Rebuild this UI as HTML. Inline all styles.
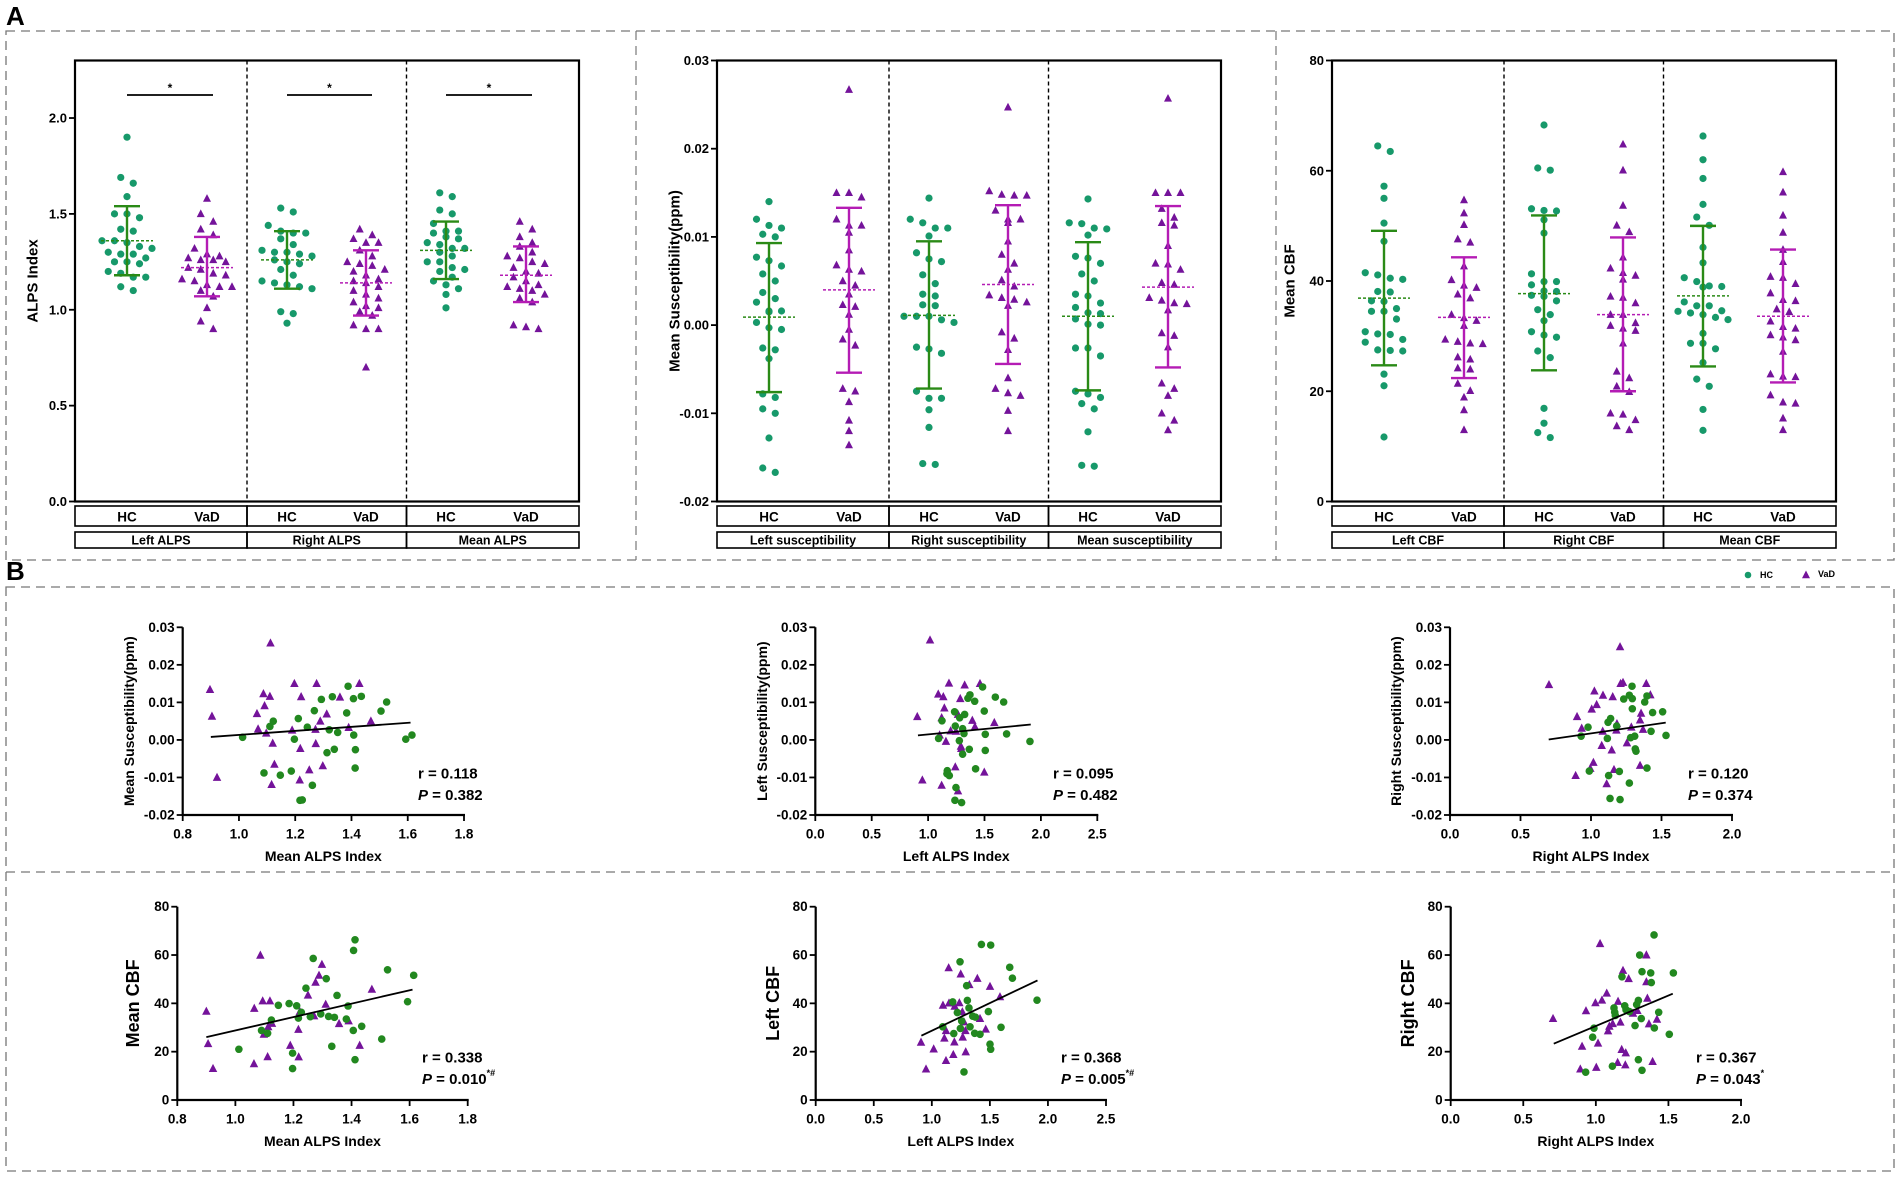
<!DOCTYPE html>
<html><head><meta charset="utf-8">
<style>
html,body{margin:0;padding:0;background:#fff;}
svg{display:block;font-family:"Liberation Sans",Arial,sans-serif;font-weight:bold;}
</style></head>
<body>
<svg id="fig" width="1902" height="1178" viewBox="0 0 1902 1178" xmlns="http://www.w3.org/2000/svg"></svg>
<script>
// ---------- Panel A data ----------
const alpsLeftHC=[1.90,1.69,1.66,1.59,1.50,1.50,1.48,1.42,1.41,1.36,1.36,1.35,1.33,1.32,1.30,1.29,1.29,1.27,1.25,1.25,1.24,1.20,1.19,1.17,1.17,1.12,1.10];
const alpsLeftVaD=[1.58,1.50,1.46,1.42,1.39,1.32,1.29,1.28,1.27,1.26,1.26,1.25,1.22,1.21,1.19,1.18,1.16,1.15,1.13,1.12,1.12,1.10,1.07,1.01,0.94,0.90];
const alpsRightHC=[1.53,1.51,1.44,1.41,1.40,1.40,1.37,1.34,1.31,1.30,1.30,1.29,1.28,1.26,1.25,1.24,1.21,1.18,1.15,1.14,1.13,1.12,1.11,0.99,0.98,0.93];
const alpsRightVaD=[1.42,1.39,1.37,1.35,1.35,1.31,1.28,1.25,1.24,1.23,1.21,1.20,1.18,1.16,1.15,1.14,1.12,1.10,1.08,1.06,1.04,1.02,1.01,0.99,0.97,0.92,0.90,0.90,0.70];
const alpsMeanHC=[1.61,1.59,1.52,1.50,1.45,1.41,1.41,1.40,1.38,1.37,1.35,1.34,1.32,1.32,1.30,1.28,1.25,1.25,1.22,1.21,1.20,1.17,1.15,1.13,1.11,1.08,1.01];
const alpsMeanVaD=[1.46,1.42,1.38,1.35,1.33,1.30,1.28,1.27,1.25,1.24,1.22,1.20,1.19,1.17,1.15,1.13,1.12,1.11,1.10,1.08,1.06,1.04,0.92,0.90,0.91];
const alpsMeans=[1.36,1.22,1.26,1.14,1.31,1.18];
const alpsLow=[1.18,1.07,1.11,0.97,1.16,1.04];
const alpsHigh=[1.54,1.38,1.41,1.31,1.46,1.33];
const alpsTicks=[0.0,0.5,1.0,1.5,2.0];
const alpsTickLabels=["0.0","0.5","1.0","1.5","2.0"];

const suscLeftHC=[0.0140,0.0120,0.0110,0.0113,0.0103,0.0100,0.0077,0.0073,0.0067,0.0058,0.0050,0.0037,0.0030,0.0026,0.0016,0.0016,0.0015,0.0003,-0.0003,-0.0005,-0.0026,-0.0028,-0.0038,-0.0078,-0.0082,-0.0095,-0.0100,-0.0128,-0.0162,-0.0167];
const suscLeftVaD=[0.0267,0.0150,0.0145,0.0150,0.0120,0.0113,0.0113,0.0105,0.0085,0.0068,0.0063,0.0061,0.0050,0.0045,0.0035,0.0023,0.0021,0.0012,-0.0005,-0.0016,-0.0023,-0.0072,-0.0075,-0.0087,-0.0108,-0.0120,-0.0136];
const suscRightHC=[0.0144,0.0120,0.0110,0.0116,0.0110,0.0101,0.0082,0.0075,0.0072,0.0057,0.0047,0.0035,0.0033,0.0022,0.0023,0.0010,0.0010,0.0010,0.0006,0.0003,-0.0025,-0.0027,-0.0032,-0.0075,-0.0083,-0.0083,-0.0096,-0.0116,-0.0158,-0.0157];
const suscRightVaD=[0.0247,0.0152,0.0147,0.0148,0.0147,0.0130,0.0120,0.0120,0.0116,0.0095,0.0080,0.0070,0.0063,0.0051,0.0044,0.0034,0.0031,0.0029,0.0026,0.0022,-0.0008,-0.0015,-0.0028,-0.0060,-0.0072,-0.0077,-0.0080,-0.0097,-0.0120];
const suscMeanHC=[0.0143,0.0116,0.0115,0.0110,0.0109,0.0102,0.0078,0.0076,0.0070,0.0058,0.0050,0.0035,0.0033,0.0025,0.0020,0.0014,0.0013,0.0007,0.0001,0.0000,-0.0026,-0.0026,-0.0035,-0.0075,-0.0078,-0.0082,-0.0089,-0.0095,-0.0121,-0.0160,-0.0159];
const suscMeanVaD=[0.0257,0.0150,0.0150,0.0150,0.0122,0.0116,0.0113,0.0132,0.0090,0.0070,0.0069,0.0063,0.0048,0.0046,0.0031,0.0028,0.0024,0.0025,0.0017,-0.0009,-0.0012,-0.0025,-0.0066,-0.0072,-0.0080,-0.0100,-0.0108,-0.0119];
const suscMeans=[0.0009,0.0040,0.0011,0.0046,0.0010,0.0043];
const suscLow=[-0.0076,-0.0054,-0.0072,-0.0044,-0.0074,-0.0048];
const suscHigh=[0.0093,0.0133,0.0095,0.0136,0.0094,0.0135];
const suscTicks=[-0.02,-0.01,0.0,0.01,0.02,0.03];
const suscTickLabels=["-0.02","-0.01","0.00","0.01","0.02","0.03"];

const cbfLeftHC=[64.5,63.5,57.2,55,50.5,47.2,41.5,41.1,40.5,40.3,38.1,38,36.4,36.3,35,34.5,34.5,33.1,30.8,30.4,30.3,29.4,28.9,27.5,27.4,27.3,23.1,21,11.7];
const cbfLeftVaD=[54.7,52.3,50.2,47.6,47,42.7,40.2,39.2,38.8,37.6,36.9,33.9,33.3,32.8,31.9,29.4,29,28.7,28.6,26.2,25.8,24.2,24,21.4,20.1,18.9,16.6,13];
const cbfRightHC=[68.3,60.5,60.1,53.1,52.8,52.7,51.1,48.7,41.3,39.9,39.9,39.3,38.2,38.1,37.4,37.2,36.4,34.8,33.9,32.8,30.8,30.2,29.8,27.3,26.1,16.9,14.2,12.5,11.6];
const cbfRightVaD=[64.8,60.1,53.7,50.1,48.9,44.3,42.3,41.5,41,40.3,37.2,37,36,33.9,33.9,32.4,31.9,31.4,31,28.7,23.6,22.4,20.9,19.9,16,15.8,14.8,13.7,13];
const cbfMeanHC=[66.3,62,58.6,53.9,51.6,50.1,46.1,43.3,40.6,39.9,39.1,39,38.9,36.2,35.5,35.5,34.6,34.5,34.2,33.9,33.4,33,30.5,28.7,28.7,27.7,25.2,22.2,20.9,16.7,12.9];
const cbfMeanVaD=[59.8,56.1,51.9,48.8,45.7,43.5,40.8,40.6,39.5,37.8,36.6,36.4,34.9,34.4,32.7,31.7,31.4,30.2,29.8,29.3,27.2,23.1,22.7,22.6,19.3,18,17.8,15.1,13];
const cbfMeans=[36.9,33.4,37.7,33.9,37.3,33.6];
const cbfLow=[24.7,22.4,23.8,20,24.5,21.6];
const cbfHigh=[49.1,44.3,51.9,47.9,50,45.7];
const cbfTicks=[0,20,40,60,80];
const cbfTickLabels=["0","20","40","60","80"];

const groupLabels=["HC","VaD","HC","VaD","HC","VaD"];

// ---------- Panel B data ----------
const s1HC=[[1.013,0.0007],[1.110,0.0036],[1.122,0.005],[1.211,0.0057],[1.197,0.0002],[1.243,0.0034],[1.268,0.0078],[1.293,0.0108],[1.332,0.0115],[1.321,0.0027],[1.351,0.0020],[1.313,-0.0034],[1.339,-0.0025],[1.388,0.0143],[1.407,0.011],[1.435,0.0116],[1.383,0.0072],[1.408,0.0013],[1.414,-0.0026],[1.413,-0.0075],[1.505,0.0077],[1.525,0.0101],[1.593,0.0002],[1.615,0.0013],[1.089,-0.0088],[1.147,-0.0094],[1.186,-0.0083],[1.261,-0.0121],[1.217,-0.0161],[1.225,-0.016]];
const s1VaD=[[0.897,0.0134],[0.904,0.0063],[0.922,-0.0100],[1.112,0.0258],[1.087,0.0123],[1.110,0.0116],[1.091,0.0091],[1.064,0.007],[1.068,0.0029],[1.097,0.0018],[1.120,-0.0009],[1.126,-0.0065],[1.116,-0.0119],[1.197,0.015],[1.221,0.0115],[1.189,0.0026],[1.218,-0.0023],[1.216,-0.0107],[1.276,0.015],[1.272,0.0028],[1.273,-0.001],[1.289,0.005],[1.312,0.0069],[1.250,-0.008],[1.298,-0.0069],[1.359,0.0114],[1.390,0.0033],[1.428,0.015],[1.469,0.005]];
const s1Fit=[[0.9,0.0008],[1.61,0.0046]];
const s2HC=[[1.093,0.0004],[1.123,0.0051],[1.235,0.0075],[1.241,0.0037],[1.280,0.0059],[1.324,0.0068],[1.306,0.003],[1.318,0.0017],[1.277,-0.0002],[1.306,-0.0038],[1.365,-0.0025],[1.371,0.012],[1.353,0.0111],[1.413,0.0103],[1.483,0.0141],[1.498,0.0077],[1.507,0.0015],[1.507,-0.0028],[1.421,-0.0077],[1.596,0.0114],[1.670,0.0101],[1.696,0.0016],[1.903,-0.0004],[1.170,-0.0082],[1.167,-0.009],[1.188,-0.0095],[1.247,-0.0127],[1.238,-0.0161],[1.297,-0.0167]];
const s2VaD=[[1.017,0.0266],[0.904,0.0062],[0.949,-0.0107],[1.090,0.0122],[1.135,0.0115],[1.144,0.0085],[1.120,0.0059],[1.102,0.0013],[1.158,-0.0004],[1.120,-0.0121],[1.185,0.0151],[1.200,0.0024],[1.247,0.0023],[1.265,0.0068],[1.285,0.011],[1.291,-0.0017],[1.294,-0.0023],[1.241,-0.0072],[1.265,-0.0136],[1.324,0.0146],[1.392,0.0052],[1.415,0.0035],[1.460,0.015],[1.498,-0.0086],[1.587,0.0046]];
const s2Fit=[[0.91,0.0012],[1.91,0.0041]];
const s3HC=[[0.93,0.001],[0.979,0.0034],[0.988,-0.0083],[1.116,0.0004],[1.121,0.0047],[1.139,0.0057],[1.182,0.0037],[1.125,-0.0095],[1.201,-0.0084],[1.135,-0.0156],[1.206,-0.0159],[1.232,0.0109],[1.272,0.0119],[1.291,0.0143],[1.293,0.011],[1.293,0.0083],[1.281,0.0006],[1.310,0.001],[1.314,-0.0024],[1.319,-0.003],[1.272,-0.0115],[1.381,0.0101],[1.397,0.0117],[1.437,0.0073],[1.426,0.0023],[1.397,-0.0075],[1.508,0.0075],[1.532,0.0012]];
const s3VaD=[[0.702,0.0147],[0.901,0.0062],[0.934,0.0031],[0.891,-0.0095],[1.005,0.0082],[1.024,0.013],[1.040,0.0094],[1.017,-0.006],[0.995,-0.0076],[1.085,0.0119],[1.083,0.0023],[1.076,-0.0015],[1.111,-0.0117],[1.154,0.0115],[1.147,-0.0027],[1.163,-0.0079],[1.184,0.0043],[1.180,0.0026],[1.206,0.0248],[1.210,0.015],[1.227,0.0153],[1.255,-0.0008],[1.286,0.0034],[1.348,0.0053],[1.355,0.0071],[1.348,-0.0068],[1.369,0.0028],[1.392,0.015],[1.421,0.012]];
const s3Fit=[[0.70,0.0001],[1.53,0.0046]];
const s4HC=[[1.012,21],[1.090,28.8],[1.111,27.6],[1.124,33.1],[1.148,39.2],[1.185,39.9],[1.211,39.0],[1.217,33.9],[1.227,36.3],[1.197,19.4],[1.197,13],[1.243,46.3],[1.268,58.6],[1.258,34.5],[1.294,35.6],[1.313,50.2],[1.321,34.6],[1.341,34.2],[1.350,43.3],[1.332,22.2],[1.382,33.5],[1.388,38.9],[1.407,61.9],[1.412,66.3],[1.406,28.8],[1.412,16.7],[1.435,30.5],[1.504,25.2],[1.524,53.9],[1.593,40.7],[1.614,51.6]];
const s4VaD=[[0.900,36.7],[0.906,23.3],[0.923,13],[1.065,37.9],[1.064,15],[1.086,59.9],[1.094,41],[1.119,41],[1.098,27.2],[1.113,30.3],[1.126,31.7],[1.111,17.9],[1.189,22.6],[1.218,17.8],[1.217,29.2],[1.222,36.6],[1.250,43.4],[1.276,48.7],[1.271,34.8],[1.288,51.6],[1.298,56.1],[1.311,39.6],[1.357,31.6],[1.390,32.7],[1.428,22.6],[1.470,45.8]];
const s4Fit=[[0.9,26],[1.61,45.7]];
const s5HC=[[1.094,30.3],[1.189,27.5],[1.180,40.6],[1.220,36.2],[1.243,57.2],[1.246,29.6],[1.300,47.3],[1.306,41.2],[1.320,38.1],[1.329,30.3],[1.352,34.7],[1.375,34.3],[1.369,27.6],[1.415,27.2],[1.427,64.4],[1.487,36.6],[1.507,64.1],[1.501,23.1],[1.507,21],[1.596,30.1],[1.671,54.9],[1.694,50.4],[1.906,41.3],[1.277,11.6],[1.257,32.7]];
const s5VaD=[[0.907,23.9],[0.950,12.8],[1.016,21.1],[1.096,39.2],[1.108,25.6],[1.145,54.7],[1.148,40.1],[1.122,28.7],[1.122,16.3],[1.185,18.8],[1.194,24],[1.197,38.8],[1.237,40.2],[1.249,52.1],[1.263,36.5],[1.266,26],[1.277,32.3],[1.289,28.7],[1.292,19.9],[1.323,47.7],[1.392,50.3],[1.415,33.7],[1.464,29.3],[1.501,47],[1.587,42.7]];
const s5Fit=[[0.91,26.6],[1.91,49.5]];
const s6HC=[[0.93,11.5],[0.987,29.7],[0.978,26],[1.114,14],[1.125,38.1],[1.130,36.3],[1.134,35],[1.180,51],[1.199,39],[1.208,37.3],[1.231,36.6],[1.270,30.8],[1.281,39.5],[1.293,41.2],[1.293,16.7],[1.302,60],[1.313,33.7],[1.318,12.3],[1.318,53.1],[1.378,52.6],[1.382,48.6],[1.403,29.8],[1.401,68.3],[1.433,36.3],[1.506,27.2],[1.534,52.6]];
const s6VaD=[[0.705,33.7],[0.893,12.8],[0.905,22.2],[0.932,36.9],[1.003,13.5],[1.015,23.5],[0.997,40.2],[1.029,64.7],[1.042,41.3],[1.075,44.2],[1.084,28.6],[1.093,30.5],[1.116,31.6],[1.153,40.8],[1.150,15.5],[1.169,32.2],[1.178,20.9],[1.187,53.6],[1.206,19.5],[1.203,14.5],[1.226,50.2],[1.256,35.9],[1.286,37],[1.348,48.9],[1.348,60],[1.355,42.1],[1.366,31.5],[1.391,15.9],[1.421,33.4]];
const s6Fit=[[0.71,23.3],[1.53,44]];
const ticksMeanAlps=[0.8,1.0,1.2,1.4,1.6,1.8];
const ticksLeftAlps=[0.0,0.5,1.0,1.5,2.0,2.5];
const ticksRightAlps=[0.0,0.5,1.0,1.5,2.0];
const statR=["0.118","0.095","0.120","0.338","0.368","0.367"];
const statP=["0.382","0.482","0.374","0.010","0.005","0.043"];
const statSup=["","","","*#","*#","*"];

// ---------- drawing ----------
const NS="http://www.w3.org/2000/svg";
const svg=document.getElementById('fig');
function mk(tag,attrs,name,parent){
  const el=document.createElementNS(NS,tag);
  for(const k in attrs) el.setAttribute(k,attrs[k]);
  
  
  (parent||svg).appendChild(el);
  return el;
}
function txt(x,y,s,size,name,anchor,extra){
  const t=mk('text',Object.assign({x:x,y:y,'font-size':size,'text-anchor':anchor||'middle','dominant-baseline':'central',fill:'#000'},extra||{}),name);
  t.textContent=s;return t;
}
const GREEN_A='#17996a', GREEN_B='#22881f', PURPLE='#74139a', MAG='#b41cb4', GBAR='#2a8a16';

function circle(x,y,r,fill,name){return mk('circle',{cx:x,cy:y,r:r,fill:fill},name);}
function tri(x,y,s,fill,name){
  const h=s*0.9;
  return mk('polygon',{points:`${x},${y-h*0.62} ${x-s/2},${y+h*0.45} ${x+s/2},${y+h*0.45}`,fill:fill},name);
}
mk('rect',{x:6,y:31,width:1888,height:529,fill:'none',stroke:'#777','stroke-width':1.3,'stroke-dasharray':'9,6'},'panel-a-border');
mk('line',{x1:636,y1:31,x2:636,y2:560,stroke:'#777','stroke-width':1.2,'stroke-dasharray':'9,6'},'panel-a-divider-1');
mk('line',{x1:1276,y1:31,x2:1276,y2:560,stroke:'#777','stroke-width':1.2,'stroke-dasharray':'9,6'},'panel-a-divider-2');
mk('rect',{x:6,y:587,width:1888,height:584,fill:'none',stroke:'#777','stroke-width':1.3,'stroke-dasharray':'9,6'},'panel-b-border');
mk('line',{x1:6,y1:872,x2:1894,y2:872,stroke:'#777','stroke-width':1.2,'stroke-dasharray':'9,6'},'panel-b-divider');
txt(6,16,'A',26,'panel-a-label','start');
txt(6,571,'B',26,'panel-b-label','start');
circle(1748,575,3.3,GREEN_A,'legend-hc-marker');
txt(1760,575,'HC',9,'legend-hc-label','start');
tri(1806,575,8,PURPLE,'legend-vad-marker');
txt(1818,574,'VaD',9,'legend-vad-label','start');

const TOP=60.5,BOT=501.5,W=504;
const offs=[52,132,212,291,371,451];
const dividers=[172,331.5];
function dotPlot(left,ymin,ymax,ticks,tlabels,groups,means,lows,highs,ytitle,names,key){
  const ys=v=>BOT-(v-ymin)/(ymax-ymin)*(BOT-TOP);
  mk('rect',{x:left,y:TOP,width:W,height:BOT-TOP,fill:'none',stroke:'#000','stroke-width':2.2},key+'-frame');
  dividers.forEach((d,i)=>mk('line',{x1:left+d,y1:TOP,x2:left+d,y2:BOT,stroke:'#000','stroke-width':1.4,'stroke-dasharray':'4,3'},key+'-divider-'+i));
  ticks.forEach((t,i)=>{
    mk('line',{x1:left-6,y1:ys(t),x2:left,y2:ys(t),stroke:'#000','stroke-width':1.8},key+'-ytick');
    txt(left-8,ys(t),tlabels[i],13,key+'-ytick-label','end');
  });
  const yt=txt(left-42,(TOP+BOT)/2,ytitle,15,key+'-y-axis-title','middle');
  yt.setAttribute('transform',`rotate(-90 ${left-42} ${(TOP+BOT)/2})`);
  groups.forEach((vals,gi)=>{
    const cx=left+offs[gi];
    const isHC=gi%2===0;
    const sorted=vals.slice().sort((a,b)=>b-a);
    let rows=[],cur=[];
    sorted.forEach(v=>{
      if(cur.length&&Math.abs(ys(cur[0])-ys(v))>9){rows.push(cur);cur=[];}
      cur.push(v);
    });
    if(cur.length)rows.push(cur);
    rows.forEach(r=>{
      const n=r.length;
      r.forEach((v,k)=>{
        const dx=(k-(n-1)/2)*12.5;
        if(isHC) circle(cx+dx,ys(v),3.6,GREEN_A,key+'-hc-point');
        else tri(cx+dx,ys(v),8,PURPLE,key+'-vad-point');
      });
    });
    const col=isHC?GBAR:MAG;
    mk('line',{x1:cx-26,y1:ys(means[gi]),x2:cx+26,y2:ys(means[gi]),stroke:col,'stroke-width':1.5,'stroke-dasharray':'3,2'},key+'-mean-line');
    mk('line',{x1:cx,y1:ys(lows[gi]),x2:cx,y2:ys(highs[gi]),stroke:col,'stroke-width':2.4},key+'-error-bar');
    mk('line',{x1:cx-13,y1:ys(lows[gi]),x2:cx+13,y2:ys(lows[gi]),stroke:col,'stroke-width':2.4},key+'-error-cap');
    mk('line',{x1:cx-13,y1:ys(highs[gi]),x2:cx+13,y2:ys(highs[gi]),stroke:col,'stroke-width':2.4},key+'-error-cap');
  });
  const edges=[0,dividers[0],dividers[1],W];
  for(let c=0;c<3;c++){
    mk('rect',{x:left+edges[c],y:506,width:edges[c+1]-edges[c],height:20,fill:'none',stroke:'#000','stroke-width':1.6},key+'-group-cell');
    mk('rect',{x:left+edges[c],y:532,width:edges[c+1]-edges[c],height:16,fill:'none',stroke:'#000','stroke-width':1.6},key+'-measure-cell');
    txt(left+(edges[c]+edges[c+1])/2,540.5,names[c],12.5,key+'-measure-label');
  }
  offs.forEach((o,i)=>txt(left+o,517,groupLabels[i],13.5,key+'-group-label'));
  return ys;
}
dotPlot(75,0,2.3,alpsTicks,alpsTickLabels,[alpsLeftHC,alpsLeftVaD,alpsRightHC,alpsRightVaD,alpsMeanHC,alpsMeanVaD],alpsMeans,alpsLow,alpsHigh,'ALPS Index',['Left ALPS','Right ALPS','Mean ALPS'],'alps');
[[0,1],[2,3],[4,5]].forEach((p,i)=>{
  const x1=75+offs[p[0]],x2=75+offs[p[1]]+6;
  mk('line',{x1:x1,y1:95,x2:x2,y2:95,stroke:'#000','stroke-width':1.8},'significance-bar-'+i);
  txt((x1+x2)/2,88,'*',12,'significance-star-'+i);
});
dotPlot(717,-0.02,0.03,suscTicks,suscTickLabels,[suscLeftHC,suscLeftVaD,suscRightHC,suscRightVaD,suscMeanHC,suscMeanVaD],suscMeans,suscLow,suscHigh,'Mean Susceptibility(ppm)',['Left susceptibility','Right susceptibility','Mean susceptibility'],'susc');
dotPlot(1332,0,80,cbfTicks,cbfTickLabels,[cbfLeftHC,cbfLeftVaD,cbfRightHC,cbfRightVaD,cbfMeanHC,cbfMeanVaD],cbfMeans,cbfLow,cbfHigh,'Mean CBF',['Left CBF','Right CBF','Mean CBF'],'cbf');

function scatter(o){
  const xs=v=>o.x0+(v-o.xmin)/(o.xmax-o.xmin)*(o.x1-o.x0);
  const ys=v=>o.y0-(v-o.ymin)/(o.ymax-o.ymin)*(o.y0-o.y1);
  const k=o.key;
  mk('line',{x1:o.x0,y1:o.y0,x2:o.x1+1,y2:o.y0,stroke:'#000','stroke-width':2.2},k+'-x-axis');
  mk('line',{x1:o.x0,y1:o.y0+1,x2:o.x0,y2:o.y1,stroke:'#000','stroke-width':2.2},k+'-y-axis');
  o.xt.forEach(t=>{
    mk('line',{x1:xs(t),y1:o.y0,x2:xs(t),y2:o.y0+6,stroke:'#000','stroke-width':1.8},k+'-xtick');
    txt(xs(t),o.y0+19,t.toFixed(1),13.5,k+'-xtick-label');
  });
  o.yt.forEach((t,i)=>{
    mk('line',{x1:o.x0-6,y1:ys(t),x2:o.x0,y2:ys(t),stroke:'#000','stroke-width':1.8},k+'-ytick');
    txt(o.x0-8,ys(t),o.ytl[i],13.5,k+'-ytick-label','end');
  });
  txt((o.x0+o.x1)/2,o.y0+41,o.xtitle,14,k+'-x-axis-title');
  const yt=txt(o.ytx,(o.y0+o.y1)/2,o.ytitle,o.ytsize,k+'-y-axis-title');
  yt.setAttribute('transform',`rotate(-90 ${o.ytx} ${(o.y0+o.y1)/2})`);
  o.vad.forEach(p=>tri(xs(p[0]),ys(p[1]),8.5,PURPLE,k+'-vad-point'));
  o.hc.forEach(p=>circle(xs(p[0]),ys(p[1]),3.8,GREEN_B,k+'-hc-point'));
  mk('line',{x1:xs(o.fit[0][0]),y1:ys(o.fit[0][1]),x2:xs(o.fit[1][0]),y2:ys(o.fit[1][1]),stroke:'#000','stroke-width':1.8},k+'-regression-line');
  txt(o.tx,o.ry,'r = '+statR[o.i],15,k+'-r-value','start');
  const pt=mk('text',{x:o.tx,y:o.ry+21,'font-size':15,'text-anchor':'start','dominant-baseline':'central',fill:'#000'},k+'-p-value');
  const a=document.createElementNS(NS,'tspan');a.setAttribute('font-style','italic');a.textContent='P';pt.appendChild(a);
  const b=document.createElementNS(NS,'tspan');b.textContent=' = '+statP[o.i];pt.appendChild(b);
  if(statSup[o.i]){const c=document.createElementNS(NS,'tspan');c.setAttribute('font-size','9');c.setAttribute('dy','-6');c.textContent=statSup[o.i];pt.appendChild(c);}
}
const suscYT=[-0.02,-0.01,0,0.01,0.02,0.03], suscYTL=["-0.02","-0.01","0.00","0.01","0.02","0.03"];
const cbfYT=[0,20,40,60,80], cbfYTL=["0","20","40","60","80"];
scatter({key:'scatter-susc-mean',i:0,x0:182.7,x1:464,xmin:0.8,xmax:1.8,y0:815,y1:627.3,ymin:-0.02,ymax:0.03,xt:ticksMeanAlps,yt:suscYT,ytl:suscYTL,xtitle:'Mean ALPS Index',ytitle:'Mean Susceptibility(ppm)',ytx:129,ytsize:14,hc:s1HC,vad:s1VaD,fit:s1Fit,tx:418,ry:774});
scatter({key:'scatter-susc-left',i:1,x0:815.3,x1:1097.3,xmin:0,xmax:2.5,y0:815,y1:627.3,ymin:-0.02,ymax:0.03,xt:ticksLeftAlps,yt:suscYT,ytl:suscYTL,xtitle:'Left ALPS Index',ytitle:'Left Susceptibility(ppm)',ytx:762,ytsize:14,hc:s2HC,vad:s2VaD,fit:s2Fit,tx:1053,ry:774});
scatter({key:'scatter-susc-right',i:2,x0:1450,x1:1732,xmin:0,xmax:2.0,y0:815,y1:627.3,ymin:-0.02,ymax:0.03,xt:ticksRightAlps,yt:suscYT,ytl:suscYTL,xtitle:'Right ALPS Index',ytitle:'Right Susceptibility(ppm)',ytx:1396,ytsize:14,hc:s3HC,vad:s3VaD,fit:s3Fit,tx:1688,ry:774});
scatter({key:'scatter-cbf-mean',i:3,x0:177.3,x1:467.7,xmin:0.8,xmax:1.8,y0:1100,y1:906.7,ymin:0,ymax:80,xt:ticksMeanAlps,yt:cbfYT,ytl:cbfYTL,xtitle:'Mean ALPS Index',ytitle:'Mean CBF',ytx:133,ytsize:18,hc:s4HC,vad:s4VaD,fit:s4Fit,tx:422,ry:1058});
scatter({key:'scatter-cbf-left',i:4,x0:815.7,x1:1106,xmin:0,xmax:2.5,y0:1100,y1:906.7,ymin:0,ymax:80,xt:ticksLeftAlps,yt:cbfYT,ytl:cbfYTL,xtitle:'Left ALPS Index',ytitle:'Left CBF',ytx:773,ytsize:18,hc:s5HC,vad:s5VaD,fit:s5Fit,tx:1061,ry:1058});
scatter({key:'scatter-cbf-right',i:5,x0:1450.7,x1:1741,xmin:0,xmax:2.0,y0:1100,y1:906.7,ymin:0,ymax:80,xt:ticksRightAlps,yt:cbfYT,ytl:cbfYTL,xtitle:'Right ALPS Index',ytitle:'Right CBF',ytx:1408,ytsize:18,hc:s6HC,vad:s6VaD,fit:s6Fit,tx:1696,ry:1058});
</script>
</body></html>
